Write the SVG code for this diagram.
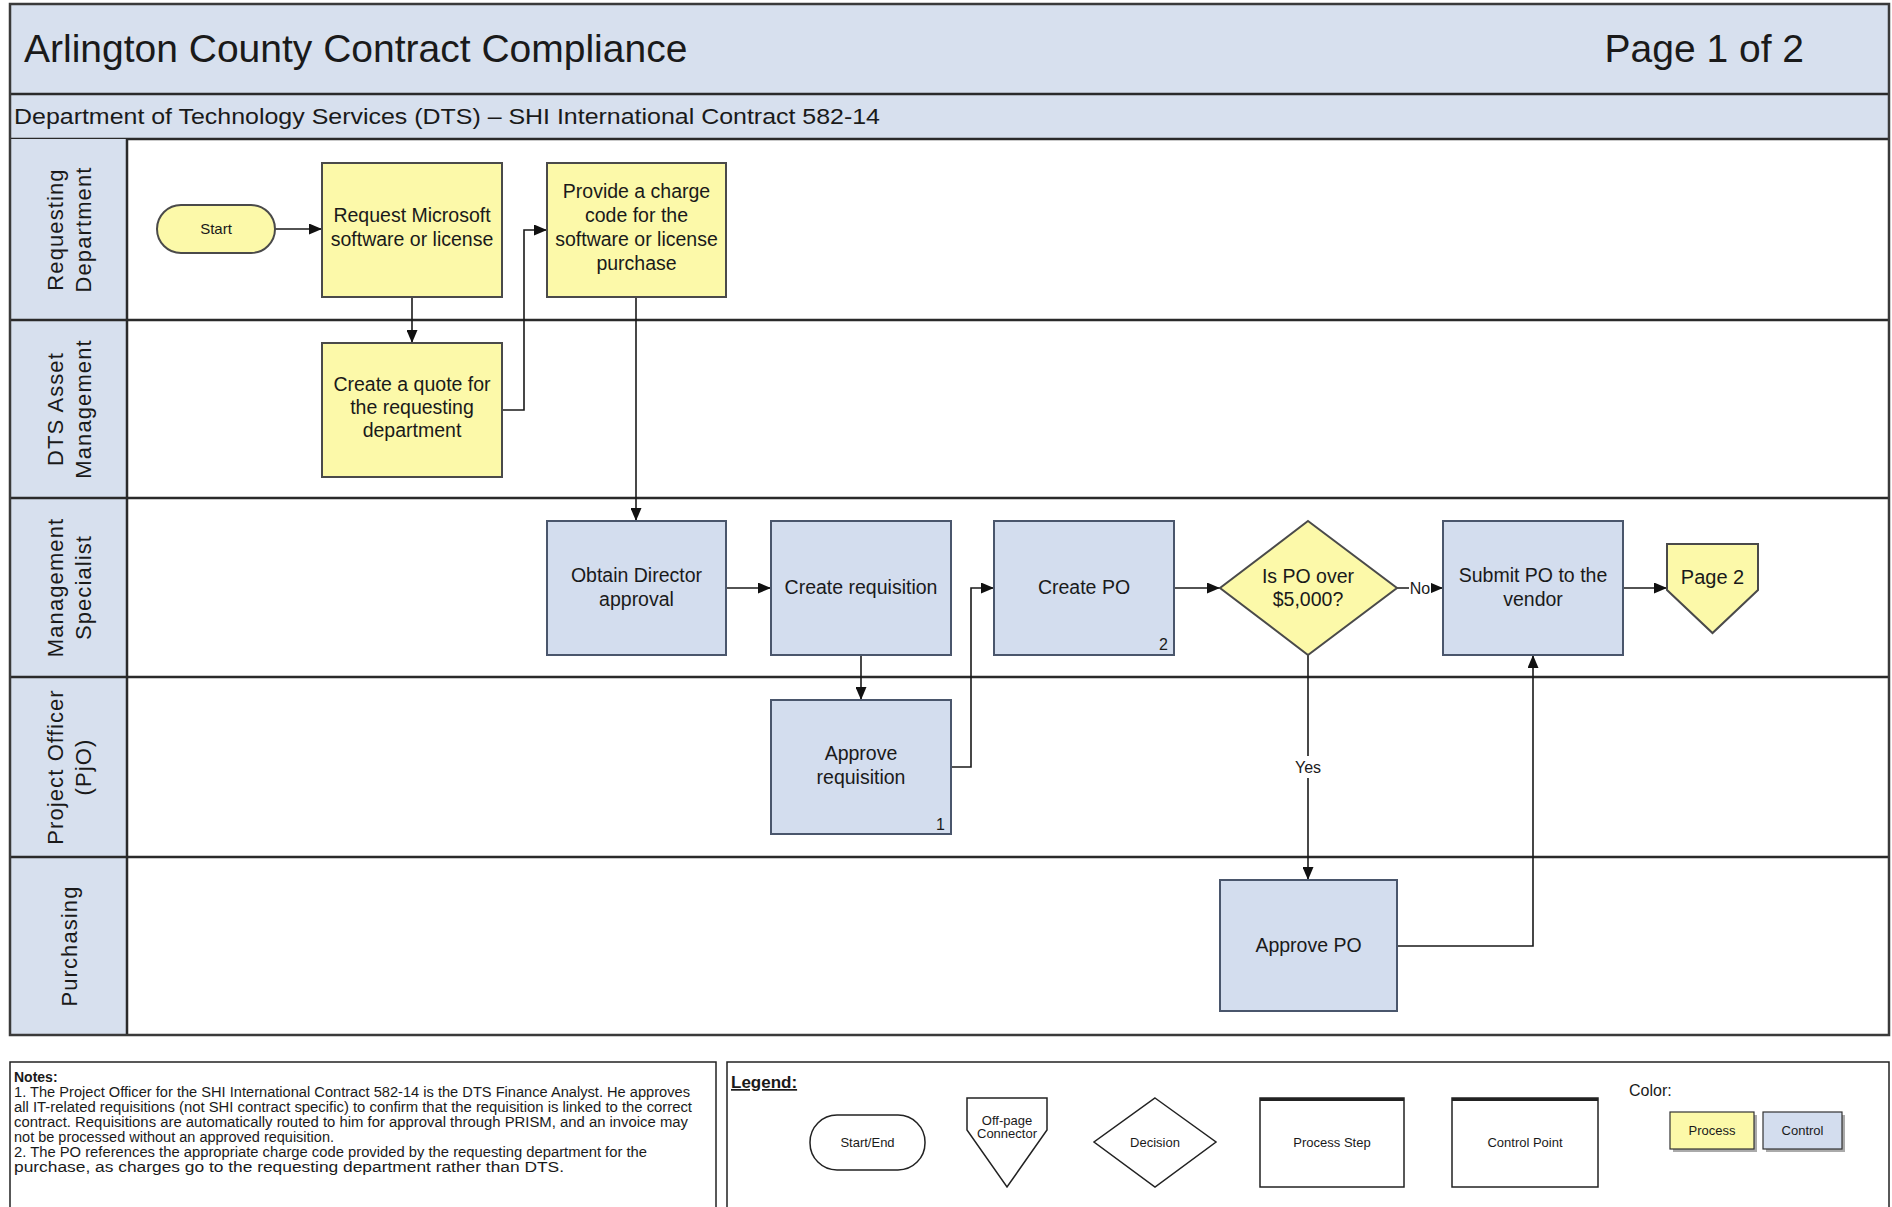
<svg xmlns="http://www.w3.org/2000/svg" width="1892" height="1207" viewBox="0 0 1892 1207">
<defs>
<style>
text{font-family:"Liberation Sans",Arial,sans-serif;fill:#1a1a1a}
.band{fill:#D7E0EE}
.frame{fill:none;stroke:#3a3a3a;stroke-width:2.5}
.sep{stroke:#2a2a2a;stroke-width:2.5}
.lane{font-size:22px;letter-spacing:1.1px;text-anchor:middle}
.proc{fill:#FCF9A9;stroke:#4a4a4a;stroke-width:2}
.ctrl{fill:#D3DDEE;stroke:#4a566c;stroke-width:2}
.t{font-size:19.5px;text-anchor:middle}
.num{font-size:16px;text-anchor:end}
.conn{fill:none;stroke:#1a1a1a;stroke-width:1.6}
.lbl{font-size:16px;text-anchor:middle}
.note{font-size:14px}
.leg{fill:#fff;stroke:#222;stroke-width:1.5}
.lt{font-size:13px;text-anchor:middle}
</style>
<marker id="arr" markerWidth="13" markerHeight="11" refX="13" refY="5.5" orient="auto" markerUnits="userSpaceOnUse">
<path d="M0,0 L13,5.5 L0,11 z" fill="#111"/>
</marker>
</defs>
<rect x="0" y="0" width="1892" height="1207" fill="#fff"/>

<!-- header bands -->
<g id="header">
<rect class="band" x="10" y="4" width="1879" height="90"/>
<rect class="band" x="10" y="94" width="1879" height="45"/>
<line class="sep" x1="10" y1="94" x2="1889" y2="94" stroke-width="3"/>
<line class="sep" x1="10" y1="139" x2="1889" y2="139" stroke-width="3"/>
<text x="24" y="62" font-size="39">Arlington County Contract Compliance</text>
<text x="1804" y="62" font-size="39" text-anchor="end">Page 1 of 2</text>
<text x="14" y="124" font-size="22" textLength="866" lengthAdjust="spacingAndGlyphs">Department of Technology Services (DTS) – SHI International Contract 582-14</text>
</g>

<!-- lanes -->
<g id="lanes">
<rect class="band" x="10" y="139" width="117" height="896"/>
<line class="sep" x1="127" y1="139" x2="127" y2="1035"/>
<line class="sep" x1="10" y1="320" x2="1889" y2="320"/>
<line class="sep" x1="10" y1="498" x2="1889" y2="498"/>
<line class="sep" x1="10" y1="677" x2="1889" y2="677"/>
<line class="sep" x1="10" y1="857" x2="1889" y2="857"/>
<g id="lane-requesting"><text class="lane" transform="translate(63,229.5) rotate(-90)">Requesting</text><text class="lane" transform="translate(91,229.5) rotate(-90)">Department</text></g>
<g id="lane-dts"><text class="lane" transform="translate(63,409) rotate(-90)">DTS Asset</text><text class="lane" transform="translate(91,409) rotate(-90)">Management</text></g>
<g id="lane-mgmt"><text class="lane" transform="translate(63,587.5) rotate(-90)">Management</text><text class="lane" transform="translate(91,587.5) rotate(-90)">Specialist</text></g>
<g id="lane-pjo"><text class="lane" transform="translate(63,767) rotate(-90)">Project Officer</text><text class="lane" transform="translate(91,767) rotate(-90)">(PjO)</text></g>
<g id="lane-purch"><text class="lane" transform="translate(77,946) rotate(-90)">Purchasing</text></g>
</g>
<rect class="frame" x="10" y="4" width="1879" height="1031"/>

<!-- connectors -->
<g id="connectors">
<path class="conn" d="M275,229 L322,229" marker-end="url(#arr)"/>
<path class="conn" d="M412,297 L412,343" marker-end="url(#arr)"/>
<path class="conn" d="M502,410 L524,410 L524,230 L547,230" marker-end="url(#arr)"/>
<path class="conn" d="M636,297 L636,521" marker-end="url(#arr)"/>
<path class="conn" d="M726,588 L771,588" marker-end="url(#arr)"/>
<path class="conn" d="M861,655 L861,700" marker-end="url(#arr)"/>
<path class="conn" d="M951,767 L971,767 L971,588 L994,588" marker-end="url(#arr)"/>
<path class="conn" d="M1174,588 L1220,588" marker-end="url(#arr)"/>
<path class="conn" d="M1397,588 L1443,588" marker-end="url(#arr)"/>
<path class="conn" d="M1308,655 L1308,880" marker-end="url(#arr)"/>
<path class="conn" d="M1397,946 L1533,946 L1533,655" marker-end="url(#arr)"/>
<path class="conn" d="M1623,588 L1667,588" marker-end="url(#arr)"/>
<rect x="1409" y="578" width="22" height="20" fill="#fff"/>
<text class="lbl" x="1420" y="594" font-size="15">No</text>
<rect x="1293" y="756" width="30" height="22" fill="#fff"/>
<text class="lbl" x="1308" y="773">Yes</text>
</g>

<!-- nodes -->
<g id="start"><rect class="proc" x="157" y="205" width="118" height="48" rx="24" ry="24"/><text x="216" y="234" font-size="15" text-anchor="middle">Start</text></g>
<g id="request"><rect class="proc" x="322" y="163" width="180" height="134"/><text class="t" x="412" y="222">Request Microsoft</text><text class="t" x="412" y="246">software or license</text></g>
<g id="provide"><rect class="proc" x="547" y="163" width="179" height="134"/><text class="t" x="636.5" y="198">Provide a charge</text><text class="t" x="636.5" y="222">code for the</text><text class="t" x="636.5" y="246">software or license</text><text class="t" x="636.5" y="270">purchase</text></g>
<g id="quote"><rect class="proc" x="322" y="343" width="180" height="134"/><text class="t" x="412" y="391">Create a quote for</text><text class="t" x="412" y="414">the requesting</text><text class="t" x="412" y="437">department</text></g>
<g id="obtain"><rect class="ctrl" x="547" y="521" width="179" height="134"/><text class="t" x="636.5" y="582">Obtain Director</text><text class="t" x="636.5" y="606">approval</text></g>
<g id="create-req"><rect class="ctrl" x="771" y="521" width="180" height="134"/><text class="t" x="861" y="594">Create requisition</text></g>
<g id="create-po"><rect class="ctrl" x="994" y="521" width="180" height="134"/><text class="t" x="1084" y="594">Create PO</text><text class="num" x="1168" y="650">2</text></g>
<g id="decision"><polygon class="proc" points="1308,521 1397,588 1308,655 1220,588"/><text class="t" x="1308" y="583">Is PO over</text><text class="t" x="1308" y="606">$5,000?</text></g>
<g id="submit"><rect class="ctrl" x="1443" y="521" width="180" height="134"/><text class="t" x="1533" y="582">Submit PO to the</text><text class="t" x="1533" y="606">vendor</text></g>
<g id="page2"><polygon class="proc" points="1667,544 1758,544 1758,590 1712.5,633 1667,590"/><text x="1712.5" y="584" font-size="20" text-anchor="middle">Page 2</text></g>
<g id="approve-req"><rect class="ctrl" x="771" y="700" width="180" height="134"/><text class="t" x="861" y="760">Approve</text><text class="t" x="861" y="784">requisition</text><text class="num" x="945" y="830">1</text></g>
<g id="approve-po"><rect class="ctrl" x="1220" y="880" width="177" height="131"/><text class="t" x="1308.5" y="952">Approve PO</text></g>

<!-- notes -->
<g id="notes">
<rect x="10" y="1062" width="706" height="160" fill="#fff" stroke="#222" stroke-width="1.5"/>
<text class="note" x="14" y="1082" font-weight="bold">Notes:</text>
<text class="note" x="14" y="1097" textLength="676" lengthAdjust="spacingAndGlyphs">1. The Project Officer for the SHI International Contract 582-14 is the DTS Finance Analyst. He approves</text>
<text class="note" x="14" y="1112" textLength="678" lengthAdjust="spacingAndGlyphs">all IT-related requisitions (not SHI contract specific) to confirm that the requisition is linked to the correct</text>
<text class="note" x="14" y="1127" textLength="674" lengthAdjust="spacingAndGlyphs">contract. Requisitions are automatically routed to him for approval through PRISM, and an invoice may</text>
<text class="note" x="14" y="1142" textLength="320" lengthAdjust="spacingAndGlyphs">not be processed without an approved requisition.</text>
<text class="note" x="14" y="1157" textLength="633" lengthAdjust="spacingAndGlyphs">2. The PO references the appropriate charge code provided by the requesting department for the</text>
<text class="note" x="14" y="1172" textLength="550" lengthAdjust="spacingAndGlyphs">purchase, as charges go to the requesting department rather than DTS.</text>
</g>

<!-- legend -->
<g id="legend">
<rect x="727" y="1062" width="1162" height="160" fill="#fff" stroke="#222" stroke-width="1.5"/>
<text x="731" y="1088" font-size="17" font-weight="bold" text-decoration="underline">Legend:</text>
<g id="leg-start"><rect class="leg" x="810" y="1115" width="115" height="55" rx="27" ry="27"/><text class="lt" x="867.5" y="1147">Start/End</text></g>
<g id="leg-offpage"><polygon class="leg" points="967,1098 1047,1098 1047,1130 1007,1187 967,1130"/><text class="lt" x="1007" y="1125" font-size="12.5">Off-page</text><text class="lt" x="1007" y="1138" font-size="12.5">Connector</text></g>
<g id="leg-decision"><polygon class="leg" points="1155,1098 1216,1142 1155,1187 1094,1142"/><text class="lt" x="1155" y="1147">Decision</text></g>
<g id="leg-process"><rect class="leg" x="1260" y="1098" width="144" height="89"/><line x1="1260" y1="1099.5" x2="1404" y2="1099.5" stroke="#222" stroke-width="3"/><text class="lt" x="1332" y="1147">Process Step</text></g>
<g id="leg-control"><rect class="leg" x="1452" y="1098" width="146" height="89"/><line x1="1452" y1="1099.5" x2="1598" y2="1099.5" stroke="#222" stroke-width="3"/><text class="lt" x="1525" y="1147">Control Point</text></g>
<text x="1629" y="1096" font-size="16">Color:</text>
<g id="leg-color-process"><rect x="1673" y="1115" width="84" height="37" fill="#aaa"/><rect x="1670" y="1112" width="84" height="37" fill="#FCF9A9" stroke="#333" stroke-width="1.2"/><text class="lt" x="1712" y="1135">Process</text></g>
<g id="leg-color-control"><rect x="1766" y="1115" width="79" height="37" fill="#aaa"/><rect x="1763" y="1112" width="79" height="37" fill="#D3DDEE" stroke="#333" stroke-width="1.2"/><text class="lt" x="1802.5" y="1135">Control</text></g>
</g>
</svg>
